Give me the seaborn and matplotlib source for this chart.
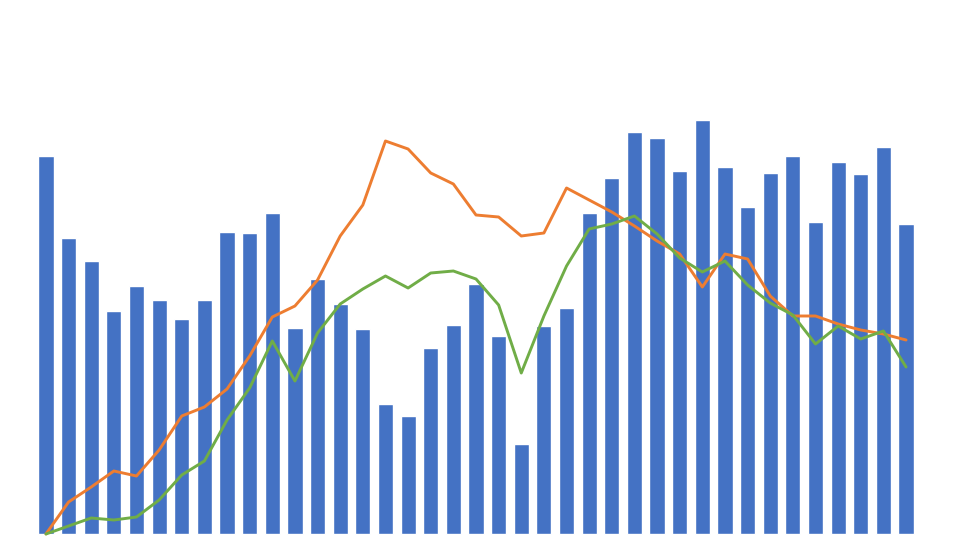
import numpy as np
import pandas as pd
import seaborn as sns
import matplotlib.pyplot as plt

# Values (pixel units above the baseline)
periods = list(range(1, 40))
bar_values = [378, 296, 273, 223, 248, 234, 215, 234, 302, 301,
              321, 206, 255, 230, 205, 130, 118, 186, 209, 250,
              198, 90, 208, 226, 321, 356, 402, 396, 363, 414,
              367, 327, 361, 378, 312, 372, 360, 387, 310]
orange_values = [0, 32, 47, 63, 58, 84, 118, 127, 145, 178,
                 217, 228, 254, 298, 329, 393, 385, 361, 350, 319,
                 317, 298, 301, 346, 334, 322, 308, 293, 280, 247,
                 280, 275, 238, 218, 218, 210, 204, 200, 194]
green_values = [0, 8, 16, 14, 17, 34, 59, 73, 114, 146,
                193, 153, 201, 230, 245, 258, 246, 261, 263, 255,
                229, 161, 218, 268, 305, 310, 318, 300, 276, 262,
                273, 249, 231, 219, 190, 208, 195, 203, 167]

df = pd.DataFrame({'period': periods, 'bars': bar_values,
                   'orange': orange_values, 'green': green_values})
df['pos'] = np.arange(len(df))

sns.set_style('white')
fig = plt.figure(figsize=(9.64, 5.58), dpi=100)
ax = fig.add_axes([0, 0, 1, 1])

sns.barplot(data=df, x='pos', y='bars', color='#4472C4', saturation=1,
            width=0.67, ax=ax, native_scale=True)
sns.lineplot(data=df, x='pos', y='orange', color='#ED7D31', linewidth=2.1, ax=ax)
sns.lineplot(data=df, x='pos', y='green', color='#70AD47', linewidth=2.1, ax=ax)

ax.set_xlim(-2.03, 40.56)
ax.set_ylim(-24, 534)
ax.axis('off')

fig.savefig('out.png', dpi=100, facecolor='white')
